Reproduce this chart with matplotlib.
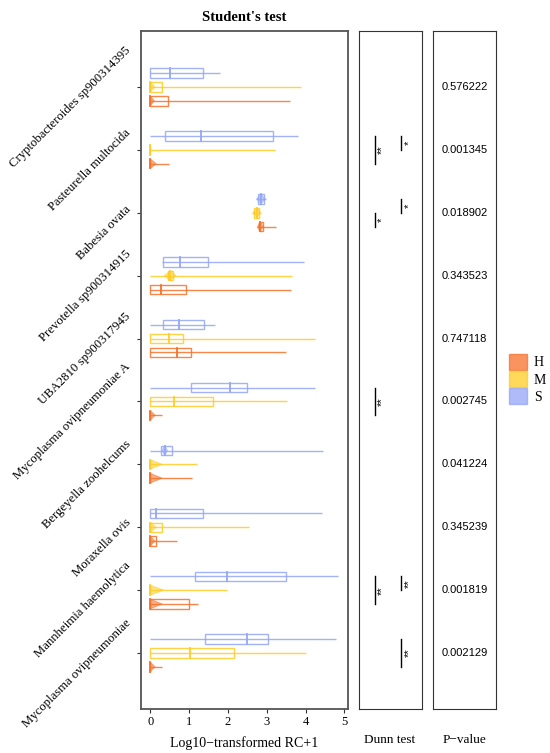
import matplotlib
matplotlib.use('Agg')
import matplotlib.pyplot as plt
from matplotlib.patches import Patch, Rectangle
from matplotlib.transforms import ScaledTranslation

# categories, top to bottom
categories = ['Cryptobacteroides sp900314395', 'Pasteurella multocida', 'Babesia ovata',
              'Prevotella sp900314915', 'UBA2810 sp900317945', 'Mycoplasma ovipneumoniae A',
              'Bergeyella zoohelcums', 'Moraxella ovis', 'Mannheimia haemolytica',
              'Mycoplasma ovipneumoniae']

# per box: whislo, q1, med, q3, whishi, notch_lo, notch_hi
s_stats = [
    [0.00, 0.00, 0.50, 1.35, 1.80, 0.50, 0.50],
    [0.00, 0.37, 1.31, 3.17, 3.79, 1.31, 1.31],
    [2.72, 2.78, 2.85, 2.92, 2.97, 2.74, 2.96],
    [0.31, 0.33, 0.76, 1.48, 3.95, 0.76, 0.76],
    [0.00, 0.33, 0.74, 1.39, 1.66, 0.74, 0.74],
    [0.00, 1.04, 2.04, 2.49, 4.24, 2.04, 2.04],
    [0.00, 0.28, 0.37, 0.56, 4.44, 0.30, 0.44],
    [0.00, 0.00, 0.14, 1.35, 4.42, 0.14, 0.14],
    [0.00, 1.14, 1.98, 3.50, 4.84, 1.98, 1.98],
    [0.00, 1.42, 2.49, 3.02, 4.77, 2.49, 2.49],
]
m_stats = [
    [0.00, 0.00, 0.00, 0.29, 3.87, 0.00, 0.12],
    [0.00, 0.00, 0.00, 0.00, 3.20, 0.00, 0.00],
    [2.62, 2.68, 2.75, 2.80, 2.86, 2.64, 2.84],
    [0.00, 0.45, 0.51, 0.58, 3.64, 0.36, 0.66],
    [0.00, 0.00, 0.47, 0.84, 4.23, 0.47, 0.47],
    [0.00, 0.00, 0.60, 1.61, 3.51, 0.60, 0.60],
    [0.00, 0.00, 0.00, 0.00, 1.20, 0.00, 0.30],
    [0.00, 0.00, 0.00, 0.29, 2.53, 0.00, 0.15],
    [0.00, 0.00, 0.00, 0.00, 1.97, 0.00, 0.35],
    [0.00, 0.00, 1.03, 2.15, 4.01, 1.03, 1.03],
]
h_stats = [
    [0.00, 0.00, 0.00, 0.45, 3.59, 0.00, 0.10],
    [0.00, 0.00, 0.00, 0.00, 0.47, 0.00, 0.15],
    [2.74, 2.79, 2.83, 2.90, 3.24, 2.76, 2.90],
    [0.00, 0.00, 0.28, 0.93, 3.61, 0.28, 0.28],
    [0.00, 0.00, 0.69, 1.05, 3.50, 0.69, 0.69],
    [0.00, 0.00, 0.00, 0.00, 0.30, 0.00, 0.12],
    [0.00, 0.00, 0.00, 0.00, 1.07, 0.00, 0.30],
    [0.00, 0.00, 0.00, 0.15, 0.69, 0.00, 0.12],
    [0.00, 0.00, 0.00, 0.99, 1.24, 0.00, 0.30],
    [0.00, 0.00, 0.00, 0.00, 0.30, 0.00, 0.12],
]

p_values = ['0.576222', '0.001345', '0.018902', '0.343523', '0.747118',
            '0.002745', '0.041224', '0.345239', '0.001819', '0.002129']

# dunn test: category index, group a, group b, label, column
dunn_pairs = [
    (1, 'S', 'H', '**', 0), (1, 'S', 'M', '*', 1),
    (2, 'S', 'M', '*', 1), (2, 'M', 'H', '*', 0),
    (5, 'S', 'H', '**', 0),
    (8, 'S', 'H', '**', 0), (8, 'S', 'M', '**', 1),
    (9, 'S', 'H', '**', 1),
]

colors = {'H': '#F7712B', 'M': '#FFCC26', 'S': '#94A6F7'}
offsets = {'S': -0.22, 'M': 0.0, 'H': 0.22}
group_stats = {'S': s_stats, 'M': m_stats, 'H': h_stats}
box_h = 0.15

serif = 'Liberation Serif'
sans = 'Liberation Sans'

fig = plt.figure(figsize=(5.5, 7.53), dpi=100)
ax = fig.add_axes([0.2564, 0.0584, 0.3763, 0.9004])
ax_d = fig.add_axes([0.6527, 0.0584, 0.1146, 0.9004])
ax_p = fig.add_axes([0.7873, 0.0584, 0.1145, 0.9004])


def draw_box(ax, y, st, color):
    lo, q1, med, q3, hi, nlo, nhi = st
    ax.plot([lo, hi], [y, y], color=color, lw=1.0, alpha=0.85, solid_capstyle='butt')
    ax.add_patch(Rectangle((q1, y - box_h / 2), q3 - q1, box_h, fill=False,
                           edgecolor=color, lw=1.0, alpha=0.85))
    ax.plot([med, med], [y - box_h / 2, y + box_h / 2], color=color, lw=1.3)
    if nhi > nlo:
        ax.fill([nlo, med, nhi, med], [y, y - box_h / 2, y, y + box_h / 2],
                facecolor=color, alpha=0.55, edgecolor=color, lw=0.8)


for g in ['S', 'M', 'H']:
    for i, st in enumerate(group_stats[g]):
        draw_box(ax, i + offsets[g], st, colors[g])

ylim = (len(categories) - 1 + 0.89, -0.89)
ax.set_xlim(-0.24, 5.09)
ax.set_ylim(ylim)
ax.set_xticks(range(6))
ax.set_xticklabels([str(v) for v in range(6)], fontfamily=serif, fontsize=9)
ax.set_yticks(range(len(categories)))
ax.set_yticklabels([])
# rotated category labels, nudged down like the original
lab_trans = ax.get_yaxis_transform() + ScaledTranslation(-0.08, -0.20, fig.dpi_scale_trans)
for i, cat in enumerate(categories):
    ax.text(0, i, cat, transform=lab_trans, rotation=45, ha='right', va='center',
            fontfamily=serif, fontsize=9.2)
ax.tick_params(length=3, width=0.8, color='#333333', pad=2)
for sp in ax.spines.values():
    sp.set_color('#555555')
    sp.set_linewidth(1.3)
ax.set_title("Student's test", fontfamily=serif, fontweight='bold', fontsize=10.5, pad=7)
ax.set_xlabel('Log10\u2212transformed RC+1', fontfamily=serif, fontsize=10, labelpad=6)

# dunn test panel
col_x = [0.25, 0.67]
ax_d.set_xlim(0, 1)
ax_d.set_ylim(ylim)
for idx, a, b, lab, col in dunn_pairs:
    y0 = idx + offsets[a]
    y1 = idx + offsets[b]
    x = col_x[col]
    ax_d.plot([x, x], [y0, y1], color='black', lw=1.0)
    ax_d.text(x + 0.12, (y0 + y1) / 2, lab, rotation=90, ha='center', va='center',
              fontsize=8, fontfamily=sans)

# p-value panel
ax_p.set_xlim(0, 1)
ax_p.set_ylim(ylim)
for i, p in enumerate(p_values):
    ax_p.text(0.5, i, p, ha='center', va='center', fontsize=8, fontfamily=sans)

for a in (ax_d, ax_p):
    a.set_xticks([])
    a.set_yticks([])
    for sp in a.spines.values():
        sp.set_color('#333333')
        sp.set_linewidth(0.8)

fig.text(0.709, 0.0173, 'Dunn test', ha='center', va='center', fontfamily=serif, fontsize=9.5)
fig.text(0.845, 0.0173, 'P\u2212value', ha='center', va='center', fontfamily=serif, fontsize=9.5)

handles = [Patch(facecolor=colors[g], edgecolor=colors[g], alpha=0.75) for g in ['H', 'M', 'S']]
fig.legend(handles, ['H', 'M', 'S'], loc='center left', bbox_to_anchor=(0.915, 0.4967),
           frameon=False, handlelength=1.3, handleheight=1.4, labelspacing=0.1,
           handletextpad=0.5, borderaxespad=0, prop={'family': serif, 'size': 10})

fig.savefig('out.png', dpi=100)
